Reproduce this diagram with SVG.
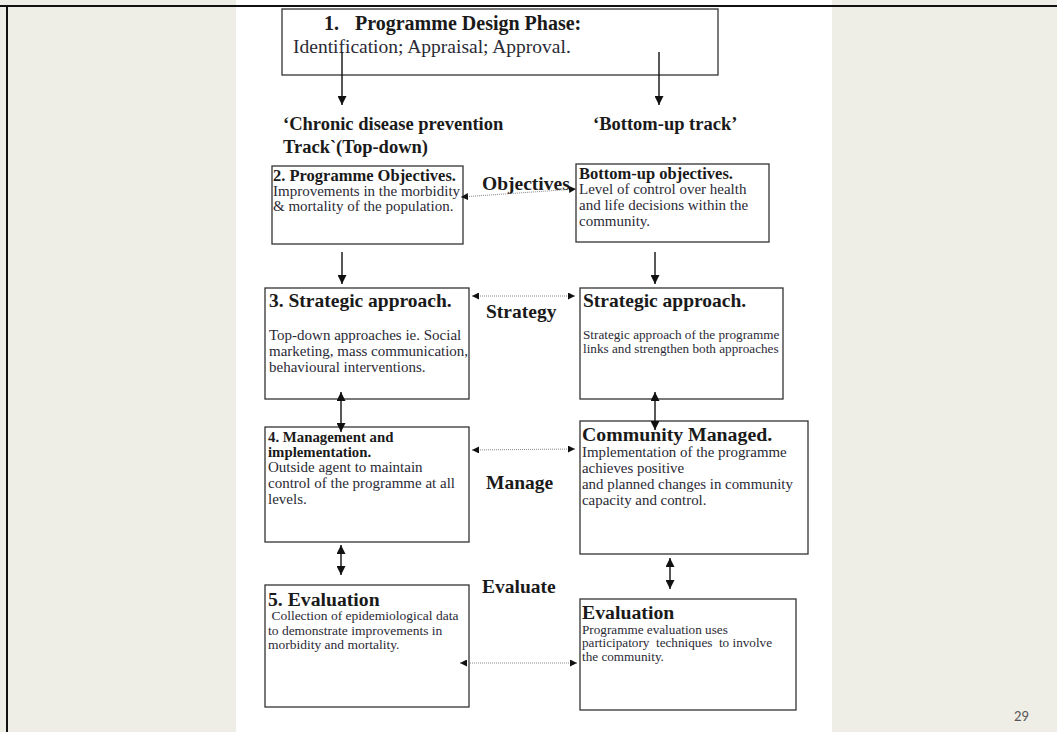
<svg xmlns="http://www.w3.org/2000/svg" width="1057" height="732" viewBox="0 0 1057 732">
  <style>
    .box { fill: #ffffff; stroke: #333333; stroke-width: 1.3; }
    .hd { font-family: "Liberation Serif", "Times New Roman", serif; font-weight: bold; fill: #1a1a1a; }
    .tx { font-family: "Liberation Serif", "Times New Roman", serif; fill: #2a2a35; }
    .solid { stroke: #111111; stroke-width: 1.4; fill: none; }
    .dot { stroke: #888888; stroke-width: 1; stroke-dasharray: 1 1; fill: none; }
  </style>
  <defs>
    <marker id="head" viewBox="0 0 10 10" refX="10" refY="5" markerWidth="7" markerHeight="7" markerUnits="userSpaceOnUse" orient="auto-start-reverse">
      <path d="M0,0 L10,5 L0,10 z" fill="#111111"/>
    </marker>
    <marker id="headS" viewBox="0 0 10 10" refX="10" refY="5" markerWidth="9" markerHeight="9" markerUnits="userSpaceOnUse" orient="auto-start-reverse">
      <path d="M0,0 L10,5 L0,10 z" fill="#111111"/>
    </marker>
  </defs>

  <!-- slide background and page -->
  <rect x="0" y="0" width="1057" height="732" fill="#efeee6"/>
  <rect x="236" y="0" width="596" height="732" fill="#ffffff"/>
  <line x1="0" y1="6" x2="1057" y2="6" stroke="#111" stroke-width="2"/>
  <line x1="7" y1="6" x2="7" y2="732" stroke="#111" stroke-width="2"/>
  <text x="1014" y="721" font-family="Lato, 'Liberation Sans', sans-serif" font-size="13" fill="#555">29</text>

  <!-- design phase -->
  <g id="design">
    <rect class="box" x="282" y="9" width="436" height="66"/>
    <text class="hd" y="30" font-size="20"><tspan x="324">1.</tspan><tspan x="355">Programme Design Phase:</tspan></text>
    <text class="tx" x="293" y="53" font-size="19.5">Identification; Appraisal; Approval.</text>
  </g>

  <!-- track headings -->
  <g id="track-top">
    <text class="hd" x="283" y="130" font-size="18.5">‘Chronic disease prevention</text>
    <text class="hd" x="283" y="153" font-size="18.5">Track`(Top-down)</text>
  </g>
  <g id="track-bottom">
    <text class="hd" x="593" y="130" font-size="18.5">‘Bottom-up track’</text>
  </g>

  <!-- row 2 -->
  <g id="prog-objectives">
    <rect class="box" x="272" y="166" width="191" height="78"/>
    <text class="hd" x="273" y="181" font-size="16.5">2. Programme Objectives.</text>
    <text class="tx" x="273" y="196" font-size="15">Improvements in the morbidity</text>
    <text class="tx" x="273" y="211" font-size="15">&amp; mortality of the population.</text>
  </g>
  <g id="bu-objectives">
    <rect class="box" x="576" y="164" width="193" height="78"/>
    <text class="hd" x="579" y="179" font-size="16.5">Bottom-up objectives.</text>
    <text class="tx" x="579" y="194" font-size="15">Level of control over health</text>
    <text class="tx" x="579" y="210" font-size="15">and life decisions within the</text>
    <text class="tx" x="579" y="226" font-size="15">community.</text>
  </g>

  <!-- row 3 -->
  <g id="strategic-top">
    <rect class="box" x="265" y="288" width="204" height="111"/>
    <text class="hd" x="269" y="307" font-size="19.5">3. Strategic approach.</text>
    <text class="tx" x="269" y="340" font-size="15">Top-down approaches ie. Social</text>
    <text class="tx" x="269" y="356" font-size="15">marketing, mass communication,</text>
    <text class="tx" x="269" y="372" font-size="15">behavioural interventions.</text>
  </g>
  <g id="strategic-bu">
    <rect class="box" x="580" y="288" width="203" height="111"/>
    <text class="hd" x="583" y="307" font-size="19.5">Strategic approach.</text>
    <text class="tx" x="583" y="339" font-size="13.2">Strategic approach of the programme</text>
    <text class="tx" x="583" y="353" font-size="13.2">links and strengthen both approaches</text>
  </g>

  <!-- row 4 -->
  <g id="management">
    <rect class="box" x="265" y="427" width="204" height="115"/>
    <text class="hd" x="268" y="442" font-size="14.8">4. Management and</text>
    <text class="hd" x="268" y="457" font-size="14.8">implementation.</text>
    <text class="tx" x="268" y="472" font-size="15">Outside agent to maintain</text>
    <text class="tx" x="268" y="488" font-size="15">control of the programme at all</text>
    <text class="tx" x="268" y="504" font-size="15">levels.</text>
  </g>
  <g id="community-managed">
    <rect class="box" x="580" y="421" width="228" height="133"/>
    <text class="hd" x="582" y="441" font-size="19.8">Community Managed.</text>
    <text class="tx" x="582" y="457" font-size="14.9">Implementation of the programme</text>
    <text class="tx" x="582" y="473" font-size="14.9">achieves positive</text>
    <text class="tx" x="582" y="489" font-size="14.9">and planned changes in community</text>
    <text class="tx" x="582" y="505" font-size="14.9">capacity and control.</text>
  </g>

  <!-- row 5 -->
  <g id="evaluation-top">
    <rect class="box" x="265" y="585" width="204" height="122"/>
    <text class="hd" x="268" y="606" font-size="19.7">5. Evaluation</text>
    <text class="tx" x="268" y="620" font-size="13.5" xml:space="preserve"> Collection of epidemiological data</text>
    <text class="tx" x="268" y="635" font-size="13.5">to demonstrate improvements in</text>
    <text class="tx" x="268" y="649" font-size="13.5">morbidity and mortality.</text>
  </g>
  <g id="evaluation-bu">
    <rect class="box" x="580" y="599" width="216" height="111"/>
    <text class="hd" x="582" y="619" font-size="19.8">Evaluation</text>
    <text class="tx" x="582" y="634" font-size="13.2">Programme evaluation uses</text>
    <text class="tx" x="582" y="647" font-size="13.2" xml:space="preserve">participatory  techniques  to involve</text>
    <text class="tx" x="582" y="661" font-size="13.2">the community.</text>
  </g>

  <!-- link labels -->
  <g id="labels">
    <text class="hd" x="482" y="190" font-size="19.5">Objectives</text>
    <text class="hd" x="486" y="318" font-size="19.5">Strategy</text>
    <text class="hd" x="486" y="489" font-size="19.5">Manage</text>
    <text class="hd" x="482" y="593" font-size="19.5">Evaluate</text>
  </g>

  <!-- connectors -->
  <g id="connectors">
    <line class="solid" x1="342" y1="52" x2="342" y2="105" marker-end="url(#headS)"/>
    <line class="solid" x1="659" y1="52" x2="659" y2="105" marker-end="url(#headS)"/>
    <line class="solid" x1="342" y1="252" x2="342" y2="284" marker-end="url(#headS)"/>
    <line class="solid" x1="655" y1="252" x2="655" y2="284" marker-end="url(#headS)"/>
    <line class="solid" x1="341" y1="392" x2="341" y2="432" marker-start="url(#headS)" marker-end="url(#headS)"/>
    <line class="solid" x1="655" y1="392" x2="655" y2="430" marker-start="url(#headS)" marker-end="url(#headS)"/>
    <line class="solid" x1="341" y1="545" x2="341" y2="575" marker-start="url(#headS)" marker-end="url(#headS)"/>
    <line class="solid" x1="670" y1="558" x2="670" y2="589" marker-start="url(#headS)" marker-end="url(#headS)"/>
    <line class="dot" x1="461" y1="197" x2="576" y2="189" marker-start="url(#head)" marker-end="url(#head)"/>
    <line class="dot" x1="472" y1="296" x2="575" y2="296" marker-start="url(#head)" marker-end="url(#head)"/>
    <line class="dot" x1="472" y1="450" x2="575" y2="449" marker-start="url(#head)" marker-end="url(#head)"/>
    <line class="dot" x1="460" y1="663" x2="577" y2="663" marker-start="url(#head)" marker-end="url(#head)"/>
  </g>
</svg>
